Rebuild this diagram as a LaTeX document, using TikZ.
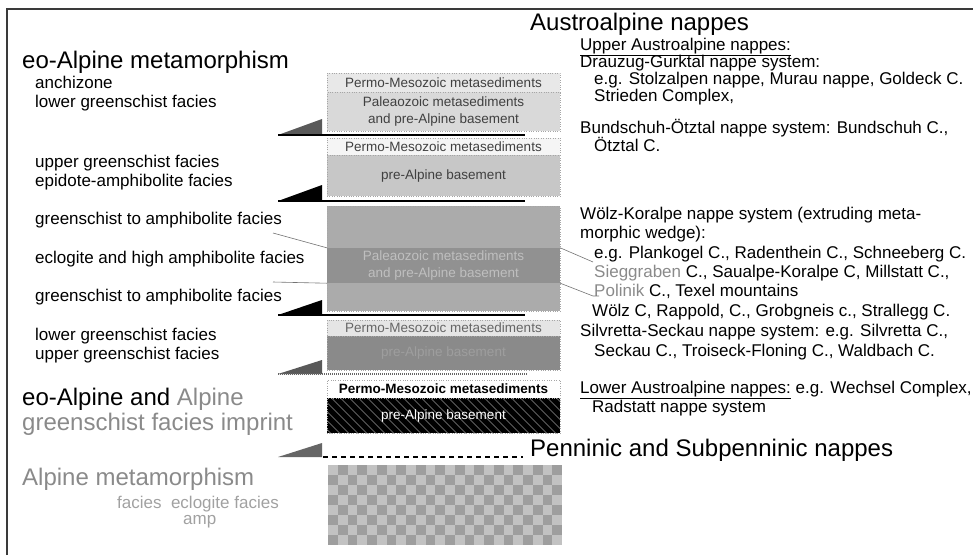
\documentclass[tikz,border=0pt]{standalone}
\usepackage{fontspec}
\setmainfont{Liberation Sans}
\usetikzlibrary{positioning}
\definecolor{frameclr}{HTML}{3A3A3A}
\definecolor{fadetxt}{HTML}{8A8A8A}

\tikzset{
  lbl/.style={anchor=base west, inner sep=0pt, font=\fontsize{17}{20}\selectfont},
  head/.style={anchor=base west, inner sep=0pt, font=\fontsize{24}{28}\selectfont},
  layer/.style={inner sep=0pt, minimum width=233pt, align=center,
    font=\fontsize{13.5}{17}\selectfont, draw=black!35, dotted},
  lead/.style={draw=black!55, line width=0.6pt},
  thrust/.style={line width=2.2pt},
}

\begin{document}
\begin{tikzpicture}[x=1pt,y=-1pt]
\useasboundingbox (0,0) rectangle (973,555);
\draw[frameclr, line width=1.2pt] (7,555) -- (7,9) -- (973,9);

% left column
\node[head] (eoA) at (22,68) {eo-Alpine metamorphism};
\node[lbl] (anchi) at (35,88) {anchizone};
\node[lbl] (lgs1) at (35,107) {lower greenschist facies};
\node[lbl] (ugs1) at (35,167) {upper greenschist facies};
\node[lbl] (epam) at (35,186) {epidote-amphibolite facies};
\node[lbl] (gta1) at (35,224) {greenschist to amphibolite facies};
\node[lbl] (eclo) at (35,263) {eclogite and high amphibolite facies};
\node[lbl] (gta2) at (35,301) {greenschist to amphibolite facies};
\node[lbl] (lgs2) at (35,340) {lower greenschist facies};
\node[lbl] (ugs2) at (35,359) {upper greenschist facies};
\node[head] (eoAA) at (22,405) {eo-Alpine and {\color{fadetxt}Alpine}};
\node[head, text=fadetxt] (imprint) at (22,430) {greenschist facies imprint};
\node[head, text=fadetxt] (alpm) at (22,485) {Alpine metamorphism};
\node[lbl, text=fadetxt!80] (faclo) at (117,508) {facies\ \ eclogite facies};
\node[lbl, text=fadetxt!80] (amp) at (183,524) {amp};

% nappe stack
\node[layer, fill=black!9, text=black!75, minimum height=19pt] (pm1) at (443.5,82.5) {Permo-Mesozoic metasediments};
\node[layer, fill=black!15, text=black!75, minimum height=39pt, below=0pt of pm1] (pz1) {Paleaozoic metasediments\\and pre-Alpine basement};
\fill[black!65] (278,135) -- (322,135) -- (322,119) -- cycle;
\draw[thrust] (278,135) -- (525,135);

\node[layer, fill=black!4, text=black!75, minimum height=17pt] (pm2) at (443.5,146.5) {Permo-Mesozoic metasediments};
\node[layer, fill=black!22, text=black!75, minimum height=41pt, below=0pt of pm2] (bs2) {pre-Alpine basement};
\fill[black] (278,201) -- (322,201) -- (322,185) -- cycle;
\draw[thrust] (278,201) -- (525,201);

\node[layer, fill=black!33, minimum height=105pt] (wk3) at (443.5,258.5) {};
\node[inner sep=0pt, minimum width=233pt, minimum height=35pt, fill=black!43, text=black!25,
  align=center, font=\fontsize{13.5}{17}\selectfont] (band3) at (443.5,265.5) {Paleaozoic metasediments\\and pre-Alpine basement};
\fill[black] (278,315) -- (322,315) -- (322,300) -- cycle;
\draw[thrust] (278,315) -- (525,315);

\node[layer, fill=black!10, text=black!60, minimum height=16pt] (pm4) at (443.5,328) {Permo-Mesozoic metasediments};
\node[layer, fill=black!46, text=black!38, minimum height=34pt, below=0pt of pm4] (bs4) {pre-Alpine basement};
\fill[black!65] (278,374) -- (322,374) -- (322,360) -- cycle;
\draw[black!60, line width=1.6pt, dash pattern=on 1pt off 1pt] (278,374) -- (527,374);

\node[layer, fill=white, text=black, minimum height=18pt, font=\bfseries\fontsize{13.5}{17}\selectfont] (pm5) at (443.5,389) {Permo-Mesozoic metasediments};
\node[layer, fill=black, text=white, minimum height=35pt, below=0pt of pm5,
  path picture={\foreach \k in {0,...,30}
    \draw[black!45, line width=0.5pt, solid] ([xshift=\k*9pt-40pt]path picture bounding box.north west) -- ++(36,36);}] (bs5) {pre-Alpine basement};
\fill[black!60] (278,457) -- (322,457) -- (322,443) -- cycle;
\draw[line width=2pt, dash pattern=on 5pt off 4pt] (323,457) -- (523,457);

% sub-penninic checkerboard
\fill[black!38] (328,465) rectangle (562,545);
\foreach \i in {0,...,23}
  \foreach \j in {0,...,7} {
    \pgfmathtruncatemacro\odd{mod(\i+\j,2)}
    \ifnum\odd=0 \fill[black!24] (328+\i*9.75,465+\j*10) rectangle ++(9.75,10); \fi
  }

% right column
\node[head] (austro) at (530,30) {Austroalpine nappes};
\node[lbl] (upper) at (580,50) {\underline{Upper Austroalpine nappes:}};
\node[lbl] (drau) at (580,67) {Drauzug-Gurktal nappe system:};
\node[lbl] (stolz) at (594,84) {e.g. Stolzalpen nappe, Murau nappe, Goldeck C.};
\node[lbl] (strie) at (594,101) {Strieden Complex,};
\node[lbl] (bund) at (580,133) {Bundschuh-Ötztal nappe system: Bundschuh C.,};
\node[lbl] (oetz) at (594,151) {Ötztal C.};
\node[lbl] (woelz) at (580,219) {Wölz-Koralpe nappe system (extruding meta-};
\node[lbl] (morph) at (580,238) {morphic wedge):};
\node[lbl] (plank) at (594,258) {e.g. Plankogel C., Radenthein C., Schneeberg C.};
\node[lbl] (siegg) at (594,277) {{\color{fadetxt}Sieggraben} C., Saualpe-Koralpe C, Millstatt C.,};
\node[lbl] (polin) at (594,296) {{\color{fadetxt}Polinik} C., Texel mountains};
\node[lbl] (rapp) at (592,316) {Wölz C, Rappold, C., Grobgneis c., Strallegg C.};
\node[lbl] (silv) at (580,336) {Silvretta-Seckau nappe system: e.g. Silvretta C.,};
\node[lbl] (seck) at (594,356) {Seckau C., Troiseck-Floning C., Waldbach C.};
\node[lbl] (lower) at (580,393) {\underline{Lower Austroalpine nappes:} e.g. Wechsel Complex,};
\node[lbl] (rad) at (592,412) {Radstatt nappe system};
\node[head] (penn) at (530,456) {Penninic and Subpenninic nappes};

% leaders to the high-grade band
\coordinate (gta1end) at (273,233);
\coordinate (gta2end) at (273,282);
\coordinate (siegend) at (593,262);
\coordinate (polend) at (593,296);
\draw[lead] (gta1end) -- (band3.north west);
\draw[lead] (gta2end) -- (band3.south west);
\draw[lead] (band3.north east) -- (siegend);
\draw[lead] (band3.south east) -- (polend) -- ++(6,0);
\end{tikzpicture}
\end{document}
